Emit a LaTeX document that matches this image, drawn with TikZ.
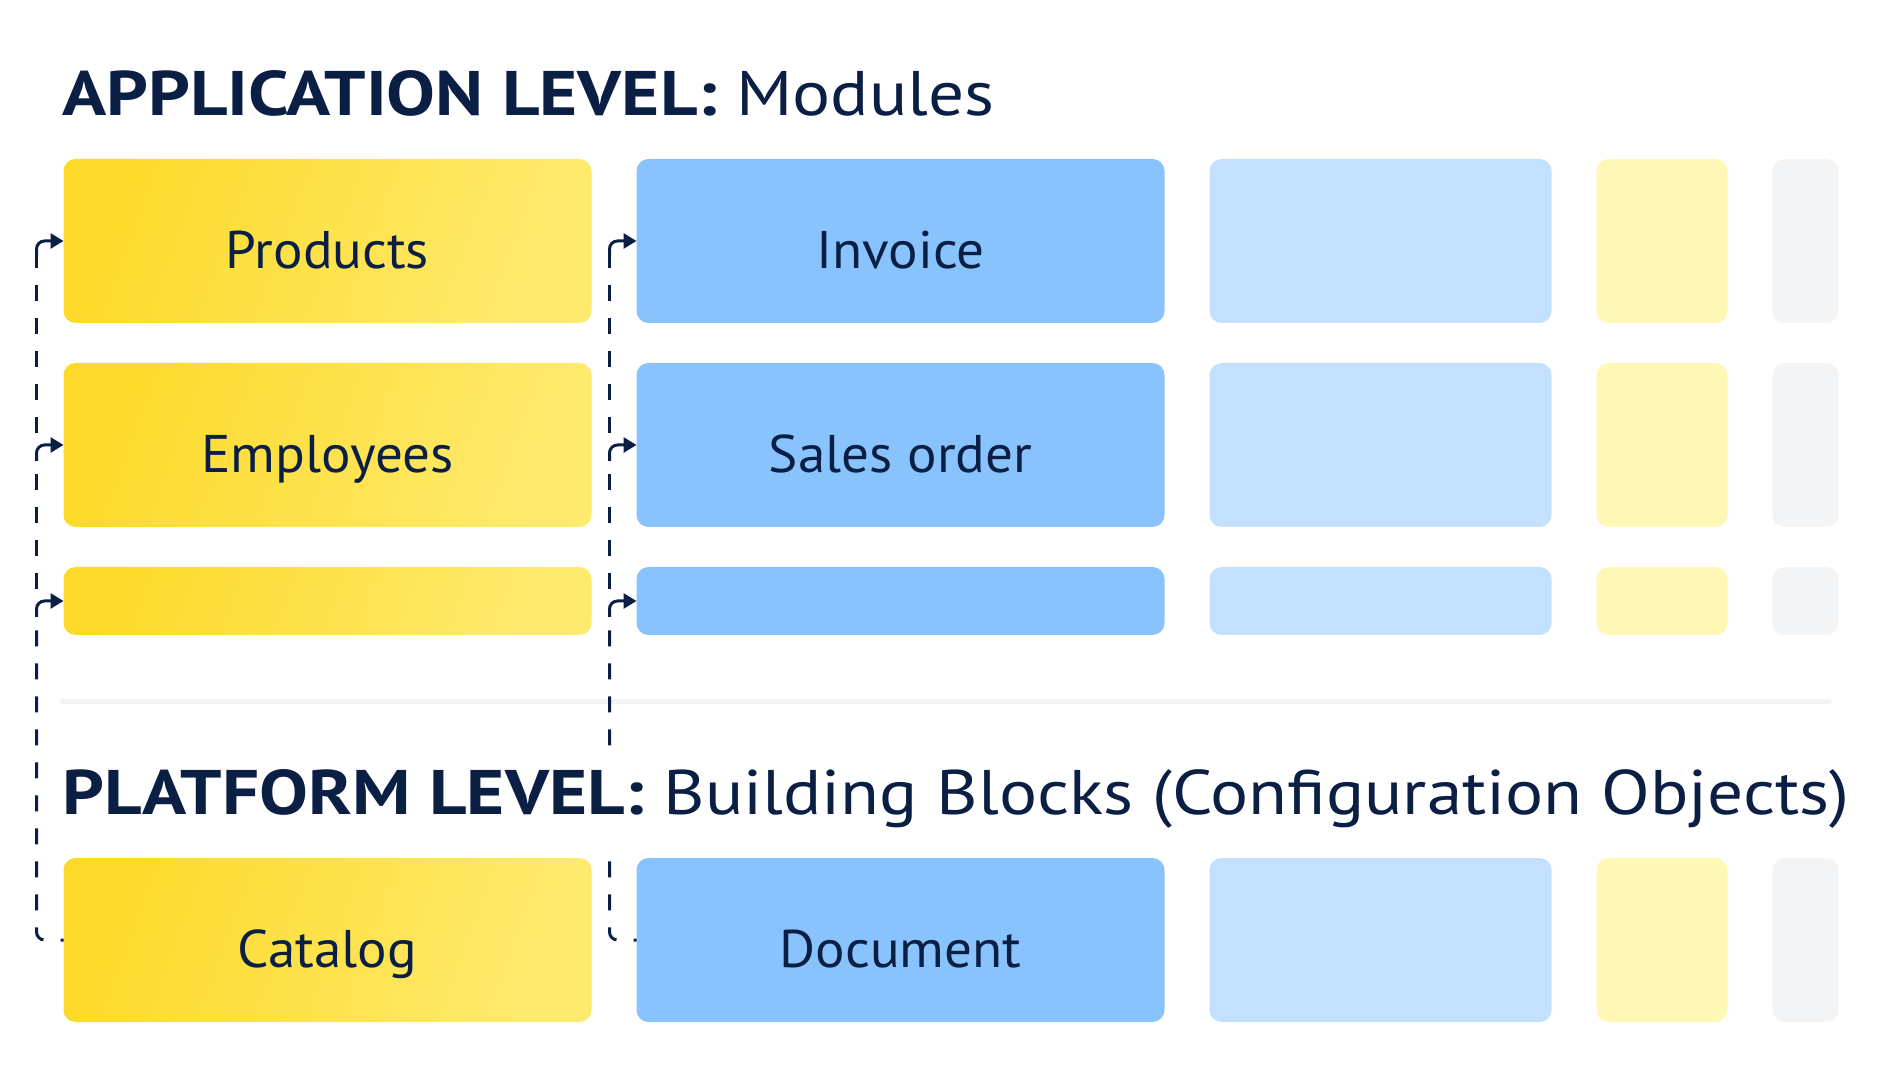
\documentclass[tikz,border=0pt]{standalone}
\usepackage{fontspec}
\setmainfont{PT Sans}[FakeStretch=1.04]
\newfontfamily\headfont{PT Sans}[FakeStretch=1.13, BoldFeatures={FakeStretch=1.16}]
\usetikzlibrary{positioning, arrows.meta}
\usepackage{xcolor}

\definecolor{navy}{HTML}{0B1F45}
\definecolor{sunA}{HTML}{FDDA2A}
\definecolor{sunB}{HTML}{FEEA6E}
\definecolor{skyblue}{HTML}{89C3FD}
\definecolor{paleblue}{HTML}{C3E1FE}
\definecolor{paleyellow}{HTML}{FFF7B6}
\definecolor{mist}{HTML}{F3F4F6}
\definecolor{rule}{HTML}{F2F3F5}

\begin{document}
\begin{tikzpicture}[x=1pt, y=1pt, node distance=45pt,
    block/.style={rounded corners=12pt, inner sep=0pt, outer sep=0pt, minimum height=164pt,
        text=navy, font=\fontsize{53}{60}\selectfont, text height=55pt, text depth=0pt},
    slim/.style={minimum height=68pt},
    module/.style={block, left color=sunA, right color=sunB, shading angle=70, minimum width=528pt},
    docbox/.style={block, fill=skyblue, minimum width=528pt},
    widebox/.style={block, fill=paleblue, minimum width=342pt},
    smallbox/.style={block, fill=paleyellow, minimum width=131pt},
    tinybox/.style={block, fill=mist, minimum width=66pt},
    heading/.style={anchor=base west, inner xsep=0pt, text=navy, font=\headfont\fontsize{63}{70}\selectfont},
    trunk/.style={draw=navy, line width=3pt, dash pattern=on 16pt off 17pt, dash phase=13pt, rounded corners=8pt},
    hook/.style={draw=navy, line width=3pt, rounded corners=8pt, -{Triangle[length=13pt, width=15pt]}}
]
    \useasboundingbox (0,0) rectangle (1879,1080);

    % Application level
    \node[heading] (apptitle) at (62, 964) {\textbf{APPLICATION LEVEL:} Modules};

    \node[module] (products) at (327.5, 839) {Products};
    \node[docbox, right=of products] (invoice) {Invoice};
    \node[widebox, right=of invoice] (wide1) {};
    \node[smallbox, right=of wide1] (small1) {};
    \node[tinybox, right=of small1] (tiny1) {};

    \node[module] (employees) at (327.5, 635) {Employees};
    \node[docbox, right=of employees] (salesorder) {Sales order};
    \node[widebox, right=of salesorder] (wide2) {};
    \node[smallbox, right=of wide2] (small2) {};
    \node[tinybox, right=of small2] (tiny2) {};

    \node[module, slim] (module3) at (327.5, 479) {};
    \node[docbox, slim, right=of module3] (doc3) {};
    \node[widebox, slim, right=of doc3] (wide3) {};
    \node[smallbox, slim, right=of wide3] (small3) {};
    \node[tinybox, slim, right=of small3] (tiny3) {};

    % Separator
    \draw[rule, line width=5pt, line cap=round] (62, 378.5) -- (1829, 378.5);

    % Platform level
    \node[module] (catalog) at (327.5, 140) {Catalog};
    \node[docbox, right=of catalog] (document) {Document};
    \node[widebox, right=of document] (wide4) {};
    \node[smallbox, right=of wide4] (small4) {};
    \node[tinybox, right=of small4] (tiny4) {};

    % Connectors
    \coordinate (pj1) at ([xshift=-27pt, yshift=-16pt]products.west);
    \coordinate (pj2) at ([xshift=-27pt, yshift=-16pt]employees.west);
    \coordinate (pj3) at ([xshift=-27pt, yshift=-16pt]module3.west);
    \coordinate (pu2) at ([xshift=-27pt, yshift=12pt]employees.west);
    \coordinate (pu3) at ([xshift=-27pt, yshift=12pt]module3.west);
    \coordinate (dj1) at ([xshift=-27pt, yshift=-16pt]invoice.west);
    \coordinate (dj2) at ([xshift=-27pt, yshift=-16pt]salesorder.west);
    \coordinate (dj3) at ([xshift=-27pt, yshift=-16pt]doc3.west);
    \coordinate (du2) at ([xshift=-27pt, yshift=12pt]salesorder.west);
    \coordinate (du3) at ([xshift=-27pt, yshift=12pt]doc3.west);

    \draw[trunk] (catalog.west) -| (pj3);
    \draw[trunk, dash phase=0pt] (pu3) -- (pj2);
    \draw[trunk, dash phase=0pt] (pu2) -- (pj1);
    \draw[trunk] (document.west) -| (dj3);
    \draw[trunk, dash phase=0pt] (du3) -- (dj2);
    \draw[trunk, dash phase=0pt] (du2) -- (dj1);
    \draw[hook] (pj1) |- (products.west);
    \draw[hook] (pj2) |- (employees.west);
    \draw[hook] (pj3) |- (module3.west);
    \draw[hook] (dj1) |- (invoice.west);
    \draw[hook] (dj2) |- (salesorder.west);
    \draw[hook] (dj3) |- (doc3.west);

    \node[heading, fill=white, inner ysep=20pt] (plattitle) at (62, 266) {\textbf{PLATFORM LEVEL:} Building Blocks (Configuration Objects)};
\end{tikzpicture}
\end{document}
